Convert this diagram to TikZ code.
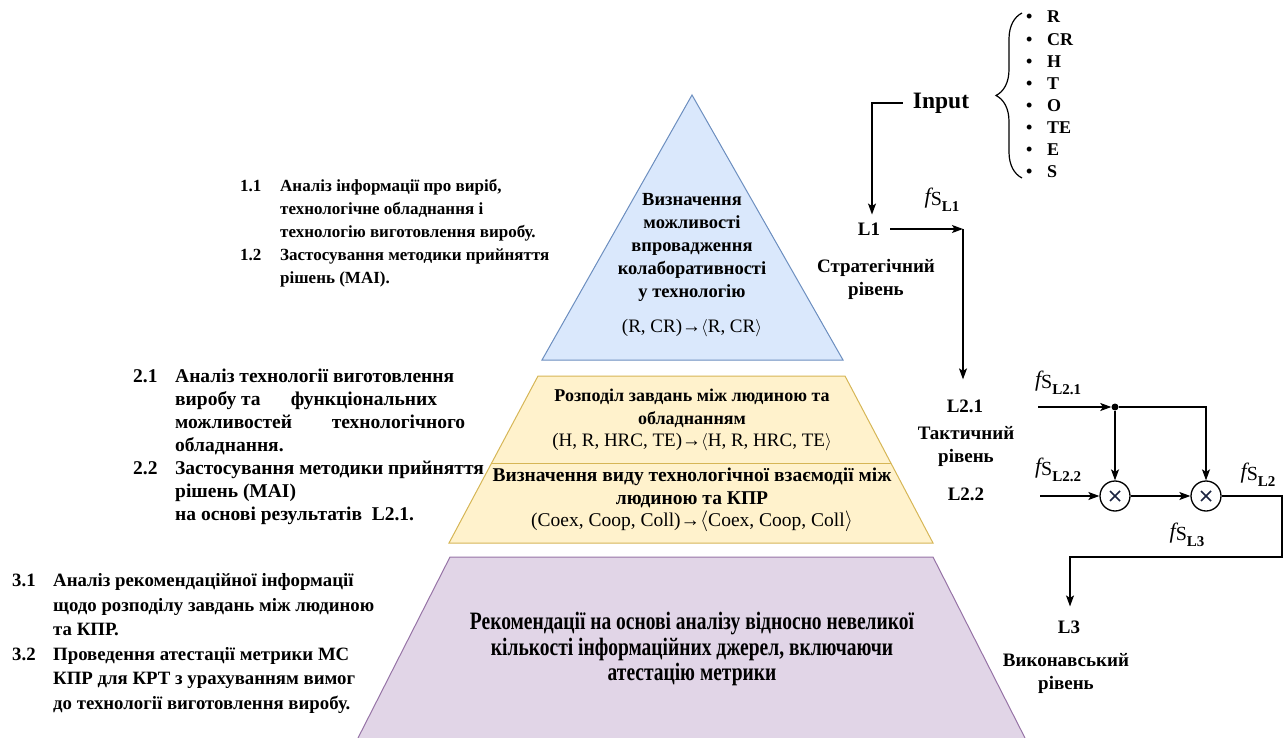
\documentclass[tikz,border=0pt]{standalone}
\usepackage{fontspec}
\setmainfont{Liberation Serif}[BoldFont={Liberation Serif Bold}, ItalicFont={Liberation Serif Italic}, BoldItalicFont={Liberation Serif Bold Italic}]
\newfontfamily\condfont{Liberation Serif Bold}[FakeStretch=0.78]
\usetikzlibrary{arrows.meta,decorations.pathreplacing,calc}
\definecolor{bfill}{HTML}{DAE8FC}\definecolor{bline}{HTML}{6C8EBF}
\definecolor{yfill}{HTML}{FFF2CC}\definecolor{yline}{HTML}{D6B656}
\definecolor{pfill}{HTML}{E1D5E7}\definecolor{pline}{HTML}{9673A6}
\definecolor{crossc}{HTML}{1A2340}
\newcommand{\fsig}[1]{{\fontsize{22}{22}\selectfont\itshape f}\raisebox{-2pt}{\fontsize{20}{20}\selectfont S}\raisebox{-8pt}{\fontsize{15}{15}\selectfont\bfseries #1}}
\tikzset{
  arr/.style={-{Stealth[length=11pt,width=8pt,inset=2.5pt]}, line width=1.3pt},
  lbl/.style={font=\fontsize{19}{23}\selectfont\bfseries, inner sep=0pt, align=center},
  leftblk/.style={inner sep=0pt, anchor=north west},
  mult/.style={circle, draw, line width=1.3pt, minimum size=30pt, inner sep=0pt, fill=white},
  fl/.style={inner sep=0pt}
}
\begin{document}
\begin{tikzpicture}[x=1pt,y=-1pt]
\useasboundingbox (0,0) rectangle (1288,738);
% pyramid
\filldraw[fill=bfill, draw=bline, line width=1pt] (692,95) -- (843,360) -- (542,360) -- cycle;
\filldraw[fill=yfill, draw=yline, line width=1pt] (538,376) -- (845,376) -- (933,543) -- (449,543) -- cycle;
\draw[yline, line width=1pt] (491.6,463) -- (890.8,463);
\fill[pfill] (450,557) -- (933,557) -- (1025,738) -- (358,738) -- cycle;
\draw[pline, line width=1pt] (358,738) -- (450,557) -- (933,557) -- (1025,738);
% pyramid texts
\node[lbl, font=\fontsize{18.5}{23}\selectfont\bfseries] (t1) at (692,247) {Визначення\\можливості\\впровадження\\колаборативності\\у технологію};
\node[lbl, font=\fontsize{19}{20}\selectfont] (t1f) at (692,328) {(R, CR)→$\langle$R, CR$\rangle$};
\node[lbl, font=\fontsize{18}{22.5}\selectfont] (t21) at (692,420) {\bfseries Розподіл завдань між людиною та\\\bfseries обладнанням\\{\fontsize{19}{22.5}\selectfont (H, R, HRC, TE)→$\langle$H, R, HRC, TE$\rangle$}};
\node[lbl, font=\fontsize{19.5}{22.5}\selectfont] (t22) at (692,500) {\bfseries Визначення виду технологічної взаємодії між\\\bfseries людиною та КПР\\{\fontsize{19.5}{22.5}\selectfont (Coex, Coop, Coll)→$\langle$Coex, Coop, Coll$\rangle$}};
\node[lbl, font=\condfont\fontsize{25}{25.5}\selectfont] (t3) at (692,649) {Рекомендації на основі аналізу відносно невеликої\\кількості інформаційних джерел, включаючи\\атестацію метрики};
% left blocks
\node[leftblk, font=\fontsize{17}{23}\selectfont\bfseries] (b1) at (240,175) {\begin{tabular}{@{}p{40pt}@{}l@{}}
1.1 & Аналіз інформації про виріб,\\
 & технологічне обладнання і\\
 & технологію виготовлення виробу.\\
1.2 & Застосування методики прийняття\\
 & рішень (МАІ).
\end{tabular}};
\node[leftblk, font=\fontsize{19.5}{23.1}\selectfont\bfseries] (b2) at (133,366) {\begin{tabular}{@{}p{42pt}@{}l@{}}
2.1 & Аналіз технології виготовлення\\
 & \makebox[262pt][l]{виробу та\hfill функціональних}\\
 & \makebox[290pt][l]{можливостей\hfill технологічного}\\
 & обладнання.\\
2.2 & Застосування методики прийняття\\
 & рішень (МАІ)\\
 & на основі результатів\ \ L2.1.
\end{tabular}};
\node[leftblk, font=\fontsize{18.8}{24.6}\selectfont\bfseries] (b3) at (12,569) {\begin{tabular}{@{}p{41pt}@{}l@{}}
3.1 & Аналіз рекомендаційної інформації\\
 & щодо розподілу завдань між людиною\\
 & та КПР.\\
3.2 & Проведення атестації метрики МС\\
 & КПР для КРТ з урахуванням вимог\\
 & до технології виготовлення виробу.
\end{tabular}};
% right labels
\node[lbl, font=\fontsize{23.5}{23.5}\selectfont\bfseries] (in) at (941,103) {Input};
\node[lbl] (L1) at (869,229) {L1};
\node[lbl] (s1) at (876,279) {Стратегічний\\рівень};
\node[lbl] (L21) at (965,406) {L2.1};
\node[lbl] (s2) at (966,446) {Тактичний\\рівень};
\node[lbl] (L22) at (966,494) {L2.2};
\node[lbl] (L3) at (1069,627) {L3};
\node[lbl] (s3) at (1066,673) {Виконавський\\рівень};
% input list
\draw[decorate, decoration={brace, amplitude=26pt, aspect=0.5}, line width=1.2pt] (1022,178) -- (1022,13);
\node[inner sep=0pt, anchor=west, font=\fontsize{18}{22.14}\selectfont\bfseries] (lst) at (1026,96) {\begin{tabular}{@{}p{21pt}@{}l@{}}
• & R\\ • & CR\\ • & H\\ • & T\\ • & O\\ • & TE\\ • & E\\ • & S
\end{tabular}};
% flow arrows
\coordinate (k0) at (872,103);
\coordinate (k1) at (963,229);
\draw[arr, shorten <=10pt, shorten >=8pt] (in.west) -- (k0) -- (k0 |- L1.north);
\draw[arr, shorten <=10pt] (L1.east) -- (k1);
\draw[arr, shorten >=20pt] (k1) -- (k1 |- L21.north);
\node[fl] (fL1) at (942,200) {\fsig{L1}};
% combination circuit
\coordinate (s21) at (1038,407);
\coordinate (s22) at (1040,496);
\node[circle, fill, inner sep=0pt, minimum size=7pt] (dot) at (1115,407) {};
\node[mult] (m1) at (1115,496) {};
\node[mult] (m2) at (1206,496) {};
\foreach \m in {m1,m2}{
  \draw[crossc, line width=1.6pt] ($(\m)+(-5,-5)$) -- ($(\m)+(5,5)$) ($(\m)+(-5,5)$) -- ($(\m)+(5,-5)$);
}
\draw[arr] (s21) -- (dot);
\draw[arr] (dot) -- (m1);
\draw[arr] (dot) -| (m2);
\draw[arr] (s22) -- (m1);
\draw[arr] (m1) -- (m2);
\coordinate (r1) at (1282,496);
\coordinate (r2) at (1282,557);
\coordinate (r3) at (1070,557);
\draw[arr, shorten >=14pt] (m2) -- (r1) -- (r2) -- (r3) -- (r3 |- L3.north);
\node[fl] (fL21) at (1058,383) {\fsig{L2.1}};
\node[fl] (fL22) at (1058,470) {\fsig{L2.2}};
\node[fl] (fL2) at (1258,475) {\fsig{L2}};
\node[fl] (fL3) at (1187,535) {\fsig{L3}};
\end{tikzpicture}
\end{document}
